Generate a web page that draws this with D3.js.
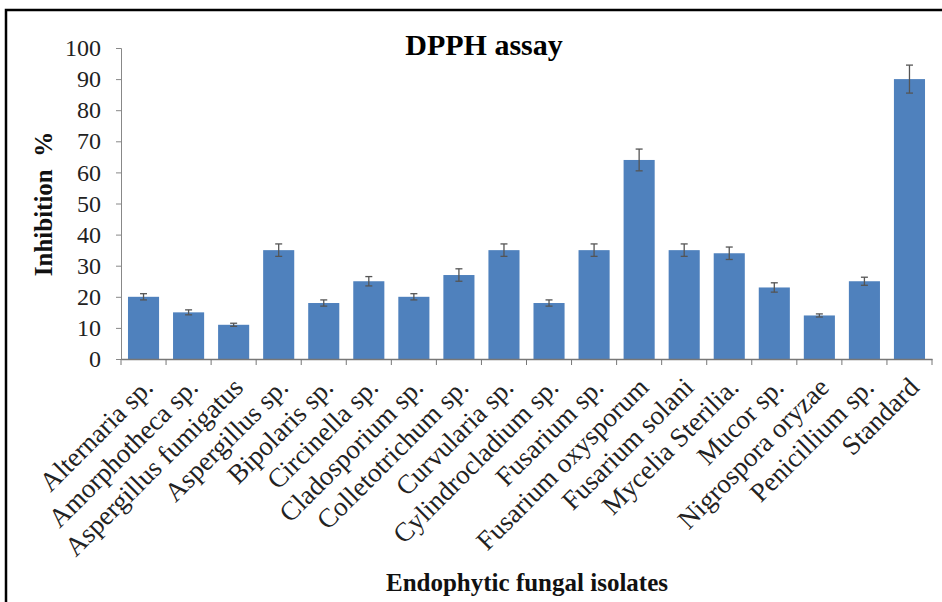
<!DOCTYPE html>
<html>
<head>
<meta charset="utf-8">
<script src="https://cdn.jsdelivr.net/npm/d3@7"></script>
<style>
  body { margin: 0; background: #fff; }
  svg text { font-family: "Liberation Serif", "Times New Roman", serif; }
</style>
</head>
<body>
<div id="dpph_plot"></div>
<script>
// isolates on the x axis
var isolates = ["Alternaria sp.", "Amorphotheca sp.", "Aspergillus fumigatus", "Aspergillus sp.",
  "Bipolaris sp.", "Circinella sp.", "Cladosporium sp.", "Colletotrichum sp.", "Curvularia sp.",
  "Cylindrocladium sp.", "Fusarium sp.", "Fusarium oxysporum", "Fusarium solani", "Mycelia Sterilia.",
  "Mucor sp.", "Nigrospora oryzae", "Penicillium sp.", "Standard"];
// inhibition % (mean) and error
var inhibition = [20, 15, 11, 35, 18, 25, 20, 27, 35, 18, 35, 64, 35, 34, 23, 14, 25, 90];
var errors     = [1, 0.8, 0.5, 2, 1, 1.5, 1, 2, 2, 1, 2, 3.5, 2, 2, 1.5, 0.5, 1.3, 4.5];
var yTicks = [0, 10, 20, 30, 40, 50, 60, 70, 80, 90, 100];

var W = 942, H = 602;
var margin = {top: 48, left: 121, right: 10, bottom: 243};
var plotW = 932 - margin.left, plotH = 359 - margin.top;
var serif = "'Liberation Serif', 'Times New Roman', serif";

var svg = d3.select("#dpph_plot").append("svg")
  .attr("width", W).attr("height", H);

// frame round the figure
svg.append("rect")
  .attr("x", 6).attr("y", 10).attr("width", W + 10).attr("height", H + 10)
  .attr("fill", "none").attr("stroke", "#000").attr("stroke-width", 2.5);

var g = svg.append("g").attr("transform", "translate(" + margin.left + "," + margin.top + ")");

var x = d3.scaleBand().domain(isolates).range([0, plotW]).padding(0);
var y = d3.scaleLinear().domain([0, 100]).range([plotH, 0]);
var barW = x.bandwidth() * 0.69;

// bars
g.selectAll("rect.bar")
  .data(isolates)
  .enter().append("rect")
  .attr("class", "bar")
  .attr("x", function(d) { return x(d) + (x.bandwidth() - barW) / 2; })
  .attr("y", function(d, i) { return y(inhibition[i]); })
  .attr("width", barW)
  .attr("height", function(d, i) { return plotH - y(inhibition[i]); })
  .attr("fill", "#4f81bd");

// error bars
var eb = g.selectAll("g.err").data(isolates).enter().append("g").attr("class", "err")
  .attr("stroke", "#555").attr("stroke-width", 1.3);
eb.append("line")
  .attr("x1", function(d) { return x(d) + x.bandwidth() / 2; })
  .attr("x2", function(d) { return x(d) + x.bandwidth() / 2; })
  .attr("y1", function(d, i) { return y(inhibition[i] - errors[i]); })
  .attr("y2", function(d, i) { return y(inhibition[i] + errors[i]); });
[1, -1].forEach(function(s) {
  eb.append("line")
    .attr("x1", function(d) { return x(d) + x.bandwidth() / 2 - 3.5; })
    .attr("x2", function(d) { return x(d) + x.bandwidth() / 2 + 3.5; })
    .attr("y1", function(d, i) { return y(inhibition[i] + s * errors[i]); })
    .attr("y2", function(d, i) { return y(inhibition[i] + s * errors[i]); });
});

// y axis
var yAxis = g.append("g").call(d3.axisLeft(y).tickValues(yTicks).tickSize(5).tickPadding(15));
yAxis.attr("font-family", null);
yAxis.select(".domain").attr("stroke", "#888");
yAxis.selectAll(".tick line").attr("stroke", "#888");
yAxis.selectAll(".tick text").attr("font-size", 24).attr("fill", "#222")
  .style("font-family", serif);

// x axis: ticks between the bars
var xAxis = g.append("g").attr("transform", "translate(0," + plotH + ")")
  .call(d3.axisBottom(x).tickSize(0).tickFormat(""));
xAxis.attr("font-family", null);
xAxis.select(".domain").attr("stroke", "#777").attr("stroke-width", 1.5);
var bounds = isolates.map(function(d) { return x(d); }).concat([plotW]);
xAxis.selectAll("line.sep").data(bounds).enter().append("line")
  .attr("class", "sep")
  .attr("x1", function(d) { return d; }).attr("x2", function(d) { return d; })
  .attr("y1", 0).attr("y2", 6).attr("stroke", "#777");

xAxis.selectAll("text.lab").data(isolates).enter().append("text")
  .attr("class", "lab")
  .attr("transform", function(d) {
    return "translate(" + (x(d) + x.bandwidth() / 2 + 11) + ",30) rotate(-45)";
  })
  .attr("text-anchor", "end")
  .attr("font-size", 27)
  .attr("fill", "#222")
  .style("font-family", serif)
  .text(function(d) { return d; });

// titles
svg.append("text")
  .attr("x", 484).attr("y", 55)
  .attr("text-anchor", "middle")
  .attr("font-size", 30).attr("font-weight", "bold")
  .text("DPPH assay");

svg.append("text")
  .attr("transform", "translate(52,204) rotate(-90)")
  .attr("text-anchor", "middle")
  .attr("font-size", 25).attr("font-weight", "bold")
  .attr("fill", "#111")
  .style("white-space", "pre")
  .text("Inhibition  %");

svg.append("text")
  .attr("x", 527).attr("y", 591)
  .attr("text-anchor", "middle")
  .attr("font-size", 25).attr("font-weight", "bold")
  .attr("fill", "#111")
  .text("Endophytic fungal isolates");
</script>
</body>
</html>
